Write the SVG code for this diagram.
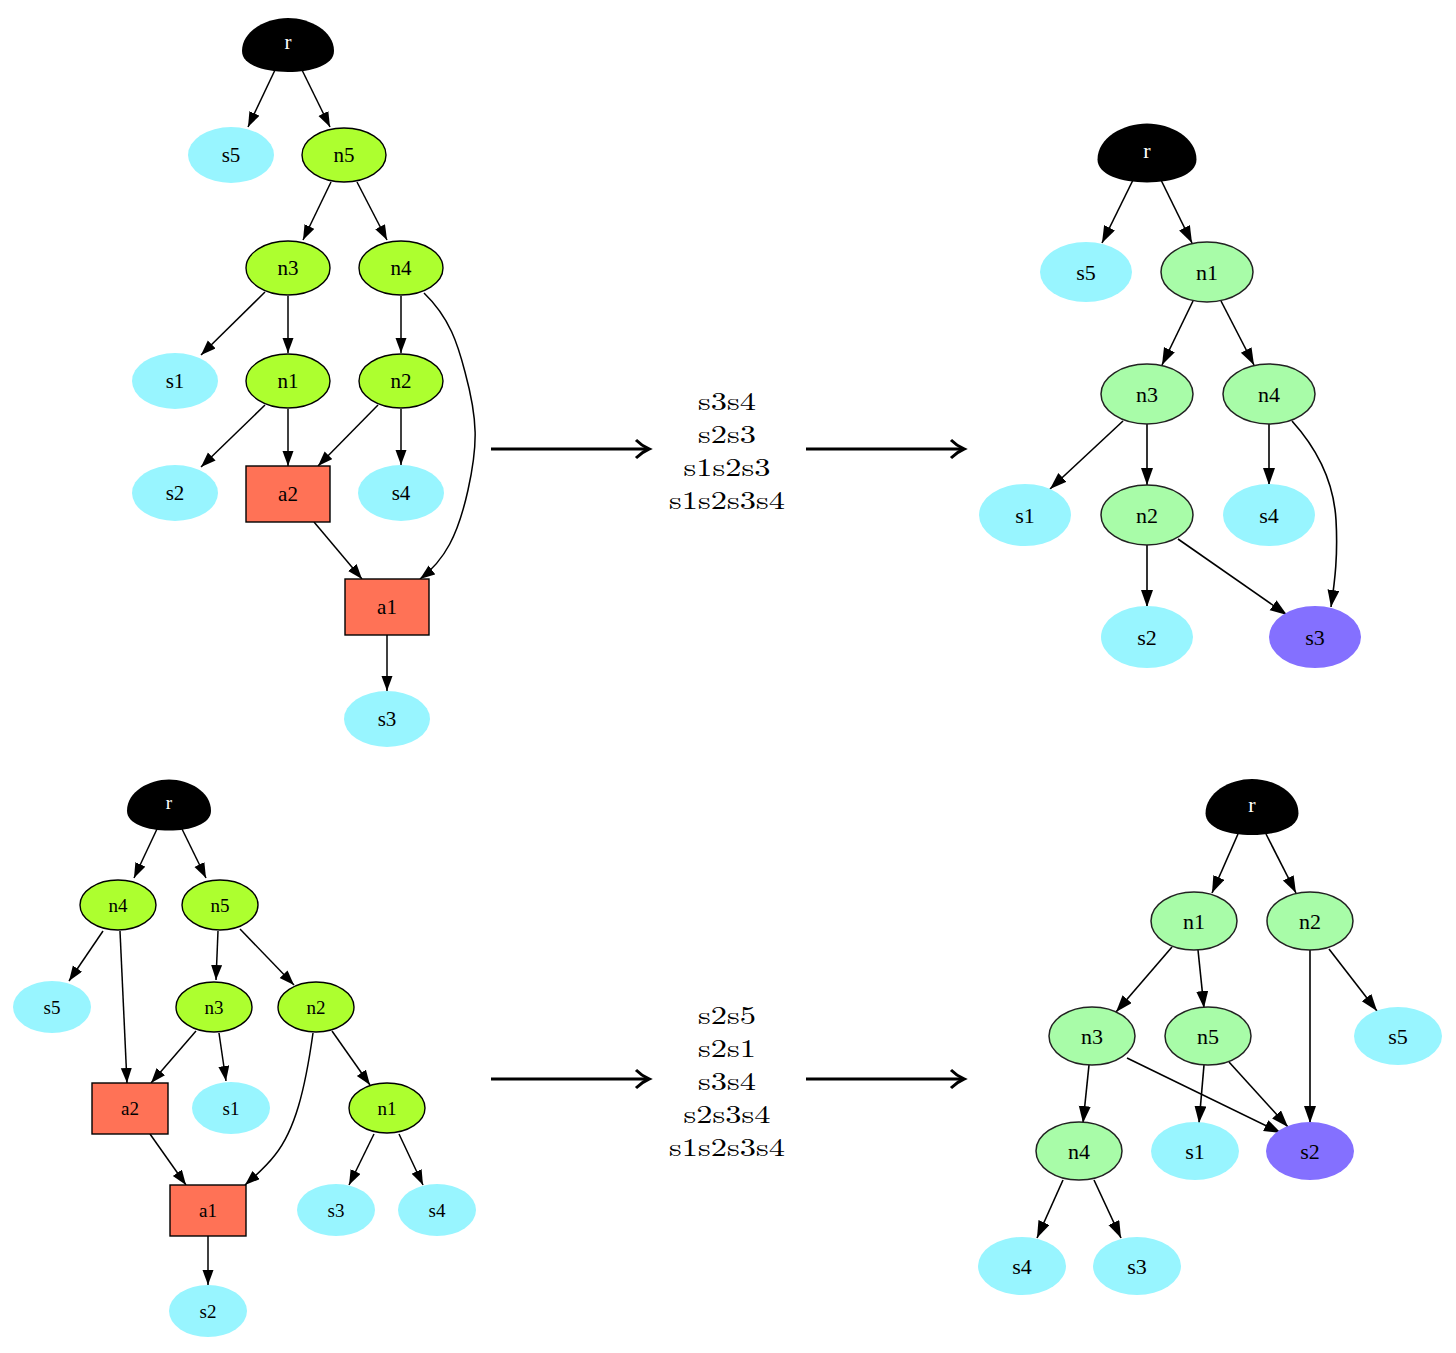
<svg xmlns="http://www.w3.org/2000/svg" width="1456" height="1353" viewBox="0 0 1456 1353">
<style>
.s{fill:#98F5FF;stroke:none}
.n{fill:#ADFF2F;stroke:#000;stroke-width:1.4}
.p{fill:#A8FCA8;stroke:#222;stroke-width:1.5}
.v{fill:#8470FF;stroke:none}
.a{fill:#FF7256;stroke:#000;stroke-width:1.4}
.r{fill:#000}
.t{font-family:"Liberation Serif","DejaVu Serif",serif;font-size:21px;text-anchor:middle;dominant-baseline:central;fill:#000}
.t2{font-size:22px}
.t3{font-size:19px}
.w{fill:#fff}
.e path,.e line{fill:none;stroke:#000;stroke-width:1.5;marker-end:url(#ah)}
.e2 path,.e2 line{fill:none;stroke:#000;stroke-width:1.6;marker-end:url(#ah2)}
.big{fill:none;stroke:#000;stroke-width:3}
.m{font-family:"Latin Modern Roman","Liberation Serif","DejaVu Serif",serif;font-size:25px;text-anchor:middle;fill:#000}
</style>
<defs>
<marker id="ah" markerUnits="userSpaceOnUse" markerWidth="16" markerHeight="12" refX="15" refY="5.5" orient="auto"><path d="M0,0 L15,5.5 L0,11 Z" fill="#000"/></marker>
<marker id="ah2" markerUnits="userSpaceOnUse" markerWidth="18" markerHeight="13" refX="17" refY="6" orient="auto"><path d="M0,0 L17,6 L0,12 Z" fill="#000"/></marker>
<path id="egg" d="M-46,6 C-46,-14 -22,-27 0,-27 C22,-27 46,-14 46,6 C46,20 24,27 0,27 C-24,27 -46,20 -46,6 Z"/>
</defs>

<!-- central arrows and texts -->
<g id="mid1">
<line class="big" x1="491" y1="449" x2="648" y2="449"/>
<path class="big" d="M636,440 Q642,446 649,449 Q642,452 636,458"/>
<line class="big" x1="806" y1="449" x2="963" y2="449"/>
<path class="big" d="M951,440 Q957,446 964,449 Q957,452 951,458"/>
<text class="m" x="727" y="410" textLength="58" lengthAdjust="spacingAndGlyphs">s3s4</text>
<text class="m" x="727" y="443" textLength="58" lengthAdjust="spacingAndGlyphs">s2s3</text>
<text class="m" x="727" y="476" textLength="87" lengthAdjust="spacingAndGlyphs">s1s2s3</text>
<text class="m" x="727" y="509" textLength="116" lengthAdjust="spacingAndGlyphs">s1s2s3s4</text>
</g>
<g id="mid2">
<line class="big" x1="491" y1="1079" x2="648" y2="1079"/>
<path class="big" d="M636,1070 Q642,1076 649,1079 Q642,1082 636,1088"/>
<line class="big" x1="806" y1="1079" x2="963" y2="1079"/>
<path class="big" d="M951,1070 Q957,1076 964,1079 Q957,1082 951,1088"/>
<text class="m" x="727" y="1024" textLength="58" lengthAdjust="spacingAndGlyphs">s2s5</text>
<text class="m" x="727" y="1057" textLength="58" lengthAdjust="spacingAndGlyphs">s2s1</text>
<text class="m" x="727" y="1090" textLength="58" lengthAdjust="spacingAndGlyphs">s3s4</text>
<text class="m" x="727" y="1123" textLength="87" lengthAdjust="spacingAndGlyphs">s2s3s4</text>
<text class="m" x="727" y="1156" textLength="116" lengthAdjust="spacingAndGlyphs">s1s2s3s4</text>
</g>

<!-- Graph 1 (top-left) edges -->
<g id="edges1" class="e">
<line x1="275" y1="70" x2="248" y2="127"/>
<line x1="302" y1="70" x2="330" y2="127"/>
<line x1="331" y1="182" x2="303" y2="240"/>
<line x1="357" y1="182" x2="387" y2="240"/>
<line x1="265" y1="292" x2="201" y2="355"/>
<line x1="288" y1="296" x2="288" y2="353"/>
<line x1="401" y1="296" x2="401" y2="353"/>
<path d="M424,293 C450,318 458,345 465,372 C478,420 478,445 468,490 C458,535 445,560 420,579"/>
<line x1="265" y1="405" x2="201" y2="467"/>
<line x1="288" y1="409" x2="288" y2="466"/>
<line x1="378" y1="405" x2="318" y2="466"/>
<line x1="401" y1="409" x2="401" y2="465"/>
<line x1="314" y1="522" x2="362" y2="579"/>
<line x1="387" y1="635" x2="387" y2="691"/>
</g>
<g id="g1_r"><use href="#egg" class="r" transform="translate(288,45)"/><text class="t w" x="288" y="42">r</text></g>
<g id="g1_s5"><ellipse class="s" cx="231" cy="155" rx="43" ry="28"/><text class="t" x="231" y="155">s5</text></g>
<g id="g1_n5"><ellipse class="n" cx="344" cy="155" rx="42" ry="27"/><text class="t" x="344" y="155">n5</text></g>
<g id="g1_n3"><ellipse class="n" cx="288" cy="268" rx="42" ry="27"/><text class="t" x="288" y="268">n3</text></g>
<g id="g1_n4"><ellipse class="n" cx="401" cy="268" rx="42" ry="27"/><text class="t" x="401" y="268">n4</text></g>
<g id="g1_s1"><ellipse class="s" cx="175" cy="381" rx="43" ry="28"/><text class="t" x="175" y="381">s1</text></g>
<g id="g1_n1"><ellipse class="n" cx="288" cy="381" rx="42" ry="27"/><text class="t" x="288" y="381">n1</text></g>
<g id="g1_n2"><ellipse class="n" cx="401" cy="381" rx="42" ry="27"/><text class="t" x="401" y="381">n2</text></g>
<g id="g1_s2"><ellipse class="s" cx="175" cy="493" rx="43" ry="28"/><text class="t" x="175" y="493">s2</text></g>
<g id="g1_a2"><rect class="a" x="246" y="466" width="84" height="56"/><text class="t" x="288" y="494">a2</text></g>
<g id="g1_s4"><ellipse class="s" cx="401" cy="493" rx="43" ry="28"/><text class="t" x="401" y="493">s4</text></g>
<g id="g1_a1"><rect class="a" x="345" y="579" width="84" height="56"/><text class="t" x="387" y="607">a1</text></g>
<g id="g1_s3"><ellipse class="s" cx="387" cy="719" rx="43" ry="28"/><text class="t" x="387" y="719">s3</text></g>

<!-- Graph 2 (top-right) edges -->
<g id="edges2" class="e2">
<line x1="1133" y1="180" x2="1102" y2="243"/>
<line x1="1161" y1="180" x2="1192" y2="243"/>
<line x1="1193" y1="301" x2="1162" y2="365"/>
<line x1="1221" y1="301" x2="1254" y2="365"/>
<line x1="1123" y1="421" x2="1050" y2="489"/>
<line x1="1147" y1="424" x2="1147" y2="485"/>
<line x1="1269" y1="424" x2="1269" y2="485"/>
<path d="M1292,421 C1320,452 1334,485 1336,520 C1338,555 1335,580 1331,607"/>
<line x1="1178" y1="539" x2="1287" y2="615"/>
<line x1="1147" y1="545" x2="1147" y2="607"/>
</g>
<g id="g2_r"><use href="#egg" class="r" transform="translate(1147,153) scale(1.076,1.09)"/><text class="t t2 w" x="1147" y="150">r</text></g>
<g id="g2_s5"><ellipse class="s" cx="1086" cy="272" rx="46" ry="30"/><text class="t t2" x="1086" y="272">s5</text></g>
<g id="g2_n1"><ellipse class="p" cx="1207" cy="272" rx="46" ry="30"/><text class="t t2" x="1207" y="272">n1</text></g>
<g id="g2_n3"><ellipse class="p" cx="1147" cy="394" rx="46" ry="30"/><text class="t t2" x="1147" y="394">n3</text></g>
<g id="g2_n4"><ellipse class="p" cx="1269" cy="394" rx="46" ry="30"/><text class="t t2" x="1269" y="394">n4</text></g>
<g id="g2_s1"><ellipse class="s" cx="1025" cy="515" rx="46" ry="31"/><text class="t t2" x="1025" y="515">s1</text></g>
<g id="g2_n2"><ellipse class="p" cx="1147" cy="515" rx="46" ry="30"/><text class="t t2" x="1147" y="515">n2</text></g>
<g id="g2_s4"><ellipse class="s" cx="1269" cy="515" rx="46" ry="31"/><text class="t t2" x="1269" y="515">s4</text></g>
<g id="g2_s2"><ellipse class="s" cx="1147" cy="637" rx="46" ry="31"/><text class="t t2" x="1147" y="637">s2</text></g>
<g id="g2_s3"><ellipse class="v" cx="1315" cy="637" rx="46" ry="31"/><text class="t t2" x="1315" y="637">s3</text></g>

<!-- Graph 3 (bottom-left) edges -->
<g id="edges3" class="e">
<line x1="157" y1="829" x2="134" y2="878"/>
<line x1="182" y1="829" x2="206" y2="878"/>
<line x1="103" y1="931" x2="69" y2="981"/>
<line x1="120" y1="931" x2="127" y2="1083"/>
<line x1="218" y1="931" x2="216" y2="980"/>
<line x1="240" y1="929" x2="294" y2="985"/>
<line x1="196" y1="1031" x2="151" y2="1083"/>
<line x1="219" y1="1033" x2="226" y2="1081"/>
<path d="M313,1033 C305,1090 295,1130 275,1155 C265,1168 255,1176 245,1185"/>
<line x1="332" y1="1031" x2="370" y2="1085"/>
<line x1="150" y1="1134" x2="186" y2="1185"/>
<line x1="374" y1="1134" x2="349" y2="1185"/>
<line x1="399" y1="1134" x2="423" y2="1185"/>
<line x1="208" y1="1236" x2="208" y2="1285"/>
</g>
<g id="g3_r"><use href="#egg" class="r" transform="translate(169,805) scale(0.913,0.944)"/><text class="t t3 w" x="169" y="802">r</text></g>
<g id="g3_n4"><ellipse class="n" cx="118" cy="905" rx="38" ry="25"/><text class="t t3" x="118" y="905">n4</text></g>
<g id="g3_n5"><ellipse class="n" cx="220" cy="905" rx="38" ry="25"/><text class="t t3" x="220" y="905">n5</text></g>
<g id="g3_s5"><ellipse class="s" cx="52" cy="1007" rx="39" ry="26"/><text class="t t3" x="52" y="1007">s5</text></g>
<g id="g3_n3"><ellipse class="n" cx="214" cy="1007" rx="38" ry="25"/><text class="t t3" x="214" y="1007">n3</text></g>
<g id="g3_n2"><ellipse class="n" cx="316" cy="1007" rx="38" ry="25"/><text class="t t3" x="316" y="1007">n2</text></g>
<g id="g3_a2"><rect class="a" x="92" y="1083" width="76" height="51"/><text class="t t3" x="130" y="1108">a2</text></g>
<g id="g3_s1"><ellipse class="s" cx="231" cy="1108" rx="39" ry="26"/><text class="t t3" x="231" y="1108">s1</text></g>
<g id="g3_n1"><ellipse class="n" cx="387" cy="1108" rx="38" ry="25"/><text class="t t3" x="387" y="1108">n1</text></g>
<g id="g3_a1"><rect class="a" x="170" y="1185" width="76" height="51"/><text class="t t3" x="208" y="1210">a1</text></g>
<g id="g3_s3"><ellipse class="s" cx="336" cy="1210" rx="39" ry="26"/><text class="t t3" x="336" y="1210">s3</text></g>
<g id="g3_s4"><ellipse class="s" cx="437" cy="1210" rx="39" ry="26"/><text class="t t3" x="437" y="1210">s4</text></g>
<g id="g3_s2"><ellipse class="s" cx="208" cy="1311" rx="39" ry="26"/><text class="t t3" x="208" y="1311">s2</text></g>

<!-- Graph 4 (bottom-right) edges -->
<g id="edges4" class="e2">
<line x1="1238" y1="834" x2="1212" y2="893"/>
<line x1="1266" y1="834" x2="1296" y2="893"/>
<line x1="1172" y1="947" x2="1116" y2="1012"/>
<line x1="1198" y1="950" x2="1204" y2="1008"/>
<line x1="1310" y1="950" x2="1310" y2="1123"/>
<line x1="1329" y1="949" x2="1377" y2="1011"/>
<line x1="1089" y1="1065" x2="1083" y2="1123"/>
<line x1="1127" y1="1058" x2="1281" y2="1133"/>
<line x1="1204" y1="1065" x2="1199" y2="1123"/>
<line x1="1229" y1="1062" x2="1288" y2="1127"/>
<line x1="1063" y1="1180" x2="1037" y2="1238"/>
<line x1="1094" y1="1180" x2="1121" y2="1238"/>
</g>
<g id="g4_r"><use href="#egg" class="r" transform="translate(1252,807) scale(1.01,1.04)"/><text class="t t2 w" x="1252" y="804">r</text></g>
<g id="g4_n1"><ellipse class="p" cx="1194" cy="921" rx="43" ry="29"/><text class="t t2" x="1194" y="921">n1</text></g>
<g id="g4_n2"><ellipse class="p" cx="1310" cy="921" rx="43" ry="29"/><text class="t t2" x="1310" y="921">n2</text></g>
<g id="g4_n3"><ellipse class="p" cx="1092" cy="1036" rx="43" ry="29"/><text class="t t2" x="1092" y="1036">n3</text></g>
<g id="g4_n5"><ellipse class="p" cx="1208" cy="1036" rx="43" ry="29"/><text class="t t2" x="1208" y="1036">n5</text></g>
<g id="g4_s5"><ellipse class="s" cx="1398" cy="1036" rx="44" ry="29"/><text class="t t2" x="1398" y="1036">s5</text></g>
<g id="g4_n4"><ellipse class="p" cx="1079" cy="1151" rx="43" ry="29"/><text class="t t2" x="1079" y="1151">n4</text></g>
<g id="g4_s1"><ellipse class="s" cx="1195" cy="1151" rx="44" ry="29"/><text class="t t2" x="1195" y="1151">s1</text></g>
<g id="g4_s2"><ellipse class="v" cx="1310" cy="1151" rx="44" ry="29"/><text class="t t2" x="1310" y="1151">s2</text></g>
<g id="g4_s4"><ellipse class="s" cx="1022" cy="1266" rx="44" ry="29"/><text class="t t2" x="1022" y="1266">s4</text></g>
<g id="g4_s3"><ellipse class="s" cx="1137" cy="1266" rx="44" ry="29"/><text class="t t2" x="1137" y="1266">s3</text></g>
</svg>
